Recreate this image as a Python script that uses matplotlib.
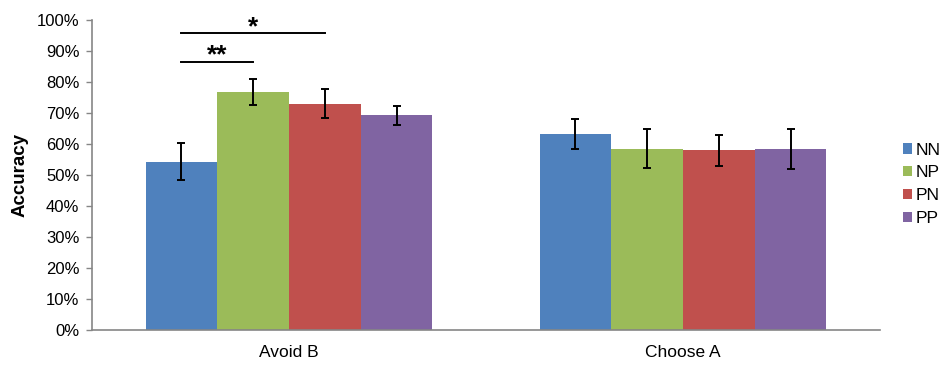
import numpy as np
import matplotlib.pyplot as plt
from matplotlib.ticker import PercentFormatter

plt.rcParams['font.family'] = ['Liberation Sans', 'DejaVu Sans']

# data
categories = ['Avoid B', 'Choose A']
groups = ['NN', 'NP', 'PN', 'PP']
accuracy = {
    'NN': [0.543, 0.633],
    'NP': [0.768, 0.585],
    'PN': [0.730, 0.580],
    'PP': [0.692, 0.585],
}
errors = {
    'NN': [0.060, 0.048],
    'NP': [0.041, 0.062],
    'PN': [0.047, 0.050],
    'PP': [0.031, 0.065],
}
colors = ['#4F81BD', '#9BBB59', '#C0504D', '#8064A2']

fig = plt.figure(figsize=(9.45, 3.65), dpi=100)
ax = fig.add_axes([92 / 945, 1 - 330 / 365, (880 - 92) / 945, 310 / 365])

x = np.arange(len(categories))
width = 0.182
centers = {}
for i, g in enumerate(groups):
    pos = x + (i - 1.5) * width
    centers[g] = pos
    ax.bar(pos, accuracy[g], width, color=colors[i], label=g, zorder=2)
    ax.errorbar(pos, accuracy[g], yerr=errors[g], fmt='none', ecolor='black',
                elinewidth=1.4, capsize=3, capthick=1.4, zorder=3)

# significance markers on Avoid B
ax.plot([centers['NN'][0], centers['NP'][0]], [0.865, 0.865], color='black', lw=1.4, clip_on=False)
ax.text((centers['NN'][0] + centers['NP'][0]) / 2, 0.885, '**', ha='center', va='center',
        fontsize=19, fontweight='bold')
ax.plot([centers['NN'][0], centers['PN'][0]], [0.958, 0.958], color='black', lw=1.4, clip_on=False)
ax.text((centers['NN'][0] + centers['PN'][0]) / 2, 0.975, '*', ha='center', va='center',
        fontsize=19, fontweight='bold', clip_on=False)

ax.set_xlim(-0.5, 1.5)
ax.set_ylim(0, 1.0)
ax.set_yticks(np.arange(0, 1.01, 0.1))
ax.yaxis.set_major_formatter(PercentFormatter(1.0, decimals=0))
ax.set_xticks(x)
ax.set_xticklabels(categories)
ax.tick_params(axis='x', length=0, pad=11, labelsize=12.5)
ax.tick_params(axis='y', length=4, width=1, color='#868686', labelsize=12, pad=5)
ax.set_ylabel('Accuracy', fontsize=13.5, fontweight='bold', labelpad=6)

for side in ['top', 'right']:
    ax.spines[side].set_visible(False)
for side in ['left', 'bottom']:
    ax.spines[side].set_color('#868686')
    ax.spines[side].set_linewidth(1.2)

ax.legend(loc='center left', bbox_to_anchor=(1.02, 0.47), frameon=False,
          fontsize=12.5, handlelength=0.55, handleheight=0.55, handletextpad=0.2,
          labelspacing=0.45, borderaxespad=0)

fig.savefig('out.png', dpi=100)
